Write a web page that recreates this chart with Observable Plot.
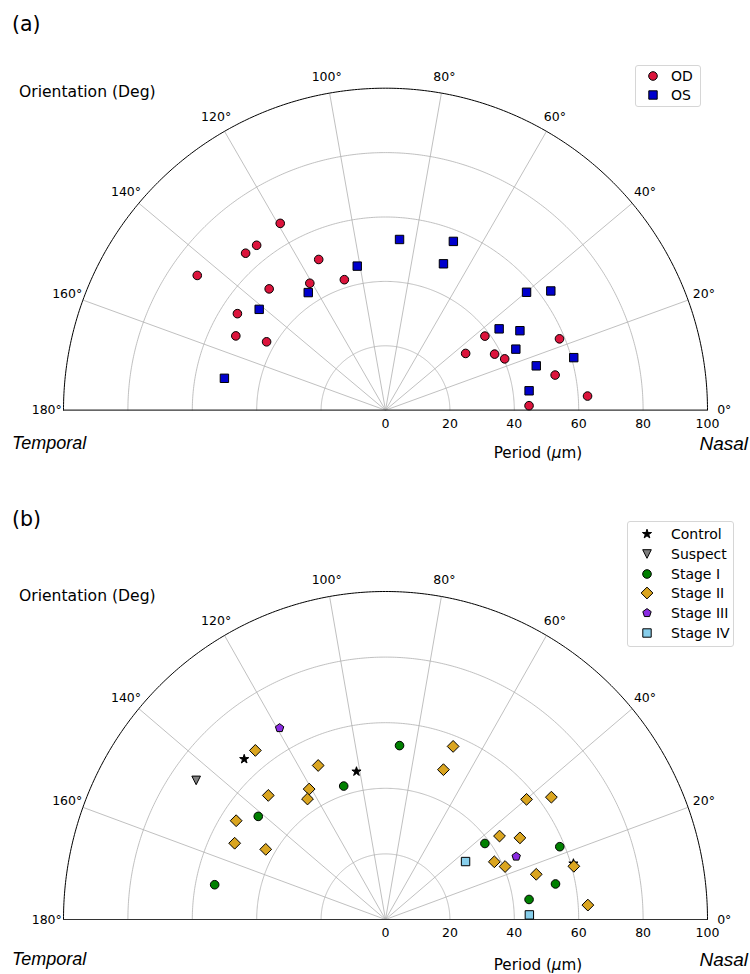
<!DOCTYPE html>
<html><head><meta charset="utf-8">
<script src="https://cdn.jsdelivr.net/npm/d3@7"></script>
<script src="https://cdn.jsdelivr.net/npm/@observablehq/plot@0.6"></script>
<style>
body{margin:0;background:#fff;}
#wrap{position:relative;width:750px;height:974px;font-family:"DejaVu Sans",sans-serif;color:#000;overflow:hidden;}
.lbl{position:absolute;white-space:nowrap;line-height:1;}
.it{font-family:"Liberation Sans",Arial,sans-serif;font-style:italic;font-size:18px;}
.legend{position:absolute;border:1px solid #d6d6d6;border-radius:3px;background:rgba(255,255,255,0.8);}
.legend .row{position:absolute;font-size:14px;line-height:1;white-space:nowrap;}
</style></head><body><div id="wrap"></div>
<script>
// ---------- data: panel (a) ----------
const odPeriod = [66.6,65.0,65.3,71.9,51.2,45.9,42.5,52.2,54.9,51.9,42.6,38.5,30.5,38.1,40.3,58.4,53.8,62.9,44.6];
const odOrient = [119.4,128.0,131.7,144.4,113.9,120.8,107.5,133.8,146.9,153.6,150.1,36.7,35.3,27.2,23.3,22.3,11.7,4.0,1.8];
const osPeriod = [45.6,43.7,50.2,51.0,56.5,48.9,57.1,63.3,43.4,48.5,44.7,60.7,48.8,45.0,53.2];
const osOrient = [101.1,123.3,141.4,168.8,68.1,68.4,39.9,35.8,35.6,30.6,25.1,15.6,16.4,7.7,85.3];
// ---------- data: panel (b) ----------
const controlPeriod = [65.7,46.0,60.8];
const controlOrient = [131.9,101.3,16.3];
const suspectPeriod = [72.5];
const suspectOrient = [144.2];
const stage1Period = [42.7,50.5,54.1,38.6,58.5,53.9,45.0,53.2];
const stage1Orient = [107.7,141.5,168.7,36.9,22.3,11.6,7.8,85.3];
const stage2Period = [65.5,51.4,46.3,44.0,52.5,55.3,52.3,42.9,56.8,49.1,57.1,63.6,43.6,48.6,38.1,40.5,60.7,48.8,63.0];
const stage2Orient = [128.1,114.0,120.8,123.4,133.9,147.0,153.6,150.1,68.3,68.5,39.9,35.9,35.7,30.8,27.5,23.5,15.5,16.4,4.0];
const stage3Period = [67.0,44.9];
const stage3Orient = [119.4,25.3];
const stage4Period = [30.5,44.7];
const stage4Orient = [35.4,1.8];
// ---------- axes ----------
const ringRadii = [20,40,60,80];
const spokeAngles = [20,40,60,80,100,120,140,160];
const thetaTicks = [0,20,40,60,80,100,120,140,160,180];
const rTicks = [0,20,40,60,80,100];

const RAD = Math.PI/180;
const px = (r,t) => r*Math.cos(t*RAD);
const py = (r,t) => r*Math.sin(t*RAD);
const zip = (P,O) => P.map((p,i)=>({r:p,t:O[i]}));

// custom marker symbols (R = dot radius)
function mk(f){return {draw(c,size){f(c,Math.sqrt(size/Math.PI));}};}
const symCircle = mk((c,R)=>{c.moveTo(R,0);c.arc(0,0,R,0,2*Math.PI);c.closePath();});
const symSquare = mk((c,R)=>{c.moveTo(-R,-R);c.lineTo(R,-R);c.lineTo(R,R);c.lineTo(-R,R);c.closePath();});
const symDiamond = mk((c,R)=>{c.moveTo(0,-R);c.lineTo(R,0);c.lineTo(0,R);c.lineTo(-R,0);c.closePath();});
const symTriDown = mk((c,R)=>{c.moveTo(-R,-R);c.lineTo(R,-R);c.lineTo(0,R);c.closePath();});
const symStar = mk((c,R)=>{for(let i=0;i<10;i++){const a=(-90+36*i)*RAD, rr=i%2?R*0.382:R; i?c.lineTo(rr*Math.cos(a),rr*Math.sin(a)):c.moveTo(rr*Math.cos(a),rr*Math.sin(a));}c.closePath();});
const symPent = mk((c,R)=>{for(let i=0;i<5;i++){const a=(-90+72*i)*RAD; i?c.lineTo(R*Math.cos(a),R*Math.sin(a)):c.moveTo(R*Math.cos(a),R*Math.sin(a));}c.closePath();});

const seriesA = [
  {label:"OD", data:zip(odPeriod,odOrient), sym:symCircle, r:4.3, fill:"crimson"},
  {label:"OS", data:zip(osPeriod,osOrient), sym:symSquare, r:4.2, fill:"mediumblue"}
];
const seriesB = [
  {label:"Control", data:zip(controlPeriod,controlOrient), sym:symStar, r:4.8, fill:"black"},
  {label:"Suspect", data:zip(suspectPeriod,suspectOrient), sym:symTriDown, r:4.3, fill:"gray"},
  {label:"Stage I", data:zip(stage1Period,stage1Orient), sym:symCircle, r:4.3, fill:"green"},
  {label:"Stage II", data:zip(stage2Period,stage2Orient), sym:symDiamond, r:5.9, fill:"goldenrod"},
  {label:"Stage III", data:zip(stage3Period,stage3Orient), sym:symPent, r:4.4, fill:"blueviolet"},
  {label:"Stage IV", data:zip(stage4Period,stage4Orient), sym:symSquare, r:4.2, fill:"skyblue"}
];

function panel(series, cy, ry){
  const arcT = d3.range(0,180.001,0.5);
  const rings = ringRadii.flatMap(rr=>arcT.map(t=>({rr,t})));
  const outer = arcT.map(t=>({rr:100,t}));
  const marks = [
    Plot.line(rings,{x:d=>px(d.rr,d.t),y:d=>py(d.rr,d.t),z:"rr",stroke:"#b0b0b0",strokeWidth:0.8}),
    Plot.link(spokeAngles,{x1:0,y1:0,x2:t=>px(100,t),y2:t=>py(100,t),stroke:"#b0b0b0",strokeWidth:0.8}),
    Plot.line(outer,{x:d=>px(d.rr,d.t),y:d=>py(d.rr,d.t),stroke:"black",strokeWidth:1}),
    Plot.ruleY([0],{x1:-100,x2:100,stroke:"#333",strokeWidth:1.2}),
    Plot.text(thetaTicks,{x:t=>px(105.2,t),y:t=>py(105.2,t),text:t=>t+"°",fontSize:12.5,fill:"black"}),
    Plot.text(rTicks,{x:d=>d,y:0,dy:13.5,text:d=>String(d),fontSize:12.5,fill:"black"})
  ];
  for(const s of series){
    marks.push(Plot.dot(s.data,{x:d=>px(d.r,d.t),y:d=>py(d.r,d.t),symbol:s.sym,r:s.r,fill:s.fill,stroke:"black",strokeWidth:1}));
  }
  return Plot.plot({
    width:750,height:487,
    x:{domain:[-100,100],range:[63,707],axis:null},
    y:{domain:[0,100],range:[cy,cy-ry],axis:null},
    style:{fontFamily:"DejaVu Sans, sans-serif",fontSize:"12.5px",background:"white",overflow:"visible"},
    marks
  });
}

const wrap = document.getElementById("wrap");
const svgA = panel(seriesA, 409.7, 322);
svgA.style.position="absolute";svgA.style.left="0";svgA.style.top="0";
wrap.appendChild(svgA);
const svgB = panel(seriesB, 432, 328);
svgB.style.position="absolute";svgB.style.left="0";svgB.style.top="487px";
wrap.appendChild(svgB);

function label(html,x,y,cls,size,anchor){
  const d=document.createElement("div");
  d.className="lbl "+(cls||"");
  d.innerHTML=html;
  if(size) d.style.fontSize=size+"px";
  d.style.top=y+"px";
  if(anchor==="middle"){d.style.left=x+"px";d.style.transform="translate(-50%,-50%)";}
  else if(anchor==="end"){d.style.right=(750-x)+"px";d.style.transform="translateY(-50%)";}
  else {d.style.left=x+"px";d.style.transform="translateY(-50%)";}
  wrap.appendChild(d);
}
const period = 'Period (<i>μ</i>m)';
// panel a texts
label("(a)",12,24,"",20.5);
label("Orientation (Deg)",19,92.5,"",15.6);
label("Temporal",12,443,"it");
label("Nasal",748,443,"it",19,"end");
label(period,538,454,"",15.2,"middle");
// panel b texts
label("(b)",12,519,"",20.5);
label("Orientation (Deg)",19,597,"",15.6);
label("Temporal",12,959,"it");
label("Nasal",748,959,"it",19,"end");
label(period,538,966,"",15.2,"middle");

function symbolSvg(s){
  const p=d3.path(); s.sym.draw(p, s.r*s.r*Math.PI);
  return `<svg width="20" height="20" style="position:absolute;left:-10px;top:-10px;overflow:visible"><path transform="translate(10,10)" d="${p.toString()}" fill="${s.fill}" stroke="black" stroke-width="1"/></svg>`;
}
function legend(series,box,mx,tx,rows){
  const L=document.createElement("div");
  L.className="legend";
  L.style.left=box[0]+"px";L.style.top=box[1]+"px";L.style.width=(box[2]-box[0])+"px";L.style.height=(box[3]-box[1])+"px";
  wrap.appendChild(L);
  series.forEach((s,i)=>{
    const m=document.createElement("div");
    m.style.position="absolute";m.style.left=(mx-box[0])+"px";m.style.top=(rows[i]-box[1])+"px";
    m.innerHTML=symbolSvg(s);
    L.appendChild(m);
    const t=document.createElement("div");
    t.className="row";t.textContent=s.label;
    t.style.left=(tx-box[0])+"px";t.style.top=(rows[i]-box[1])+"px";t.style.transform="translateY(-50%)";
    L.appendChild(t);
  });
}
legend(seriesA,[635,65,699,105],652,670,[75.3,93.8]);
legend(seriesB,[627,521,732,645],646,670,[533.3,552.8,572.5,592.2,611.9,631.5]);
</script>
</body></html>
